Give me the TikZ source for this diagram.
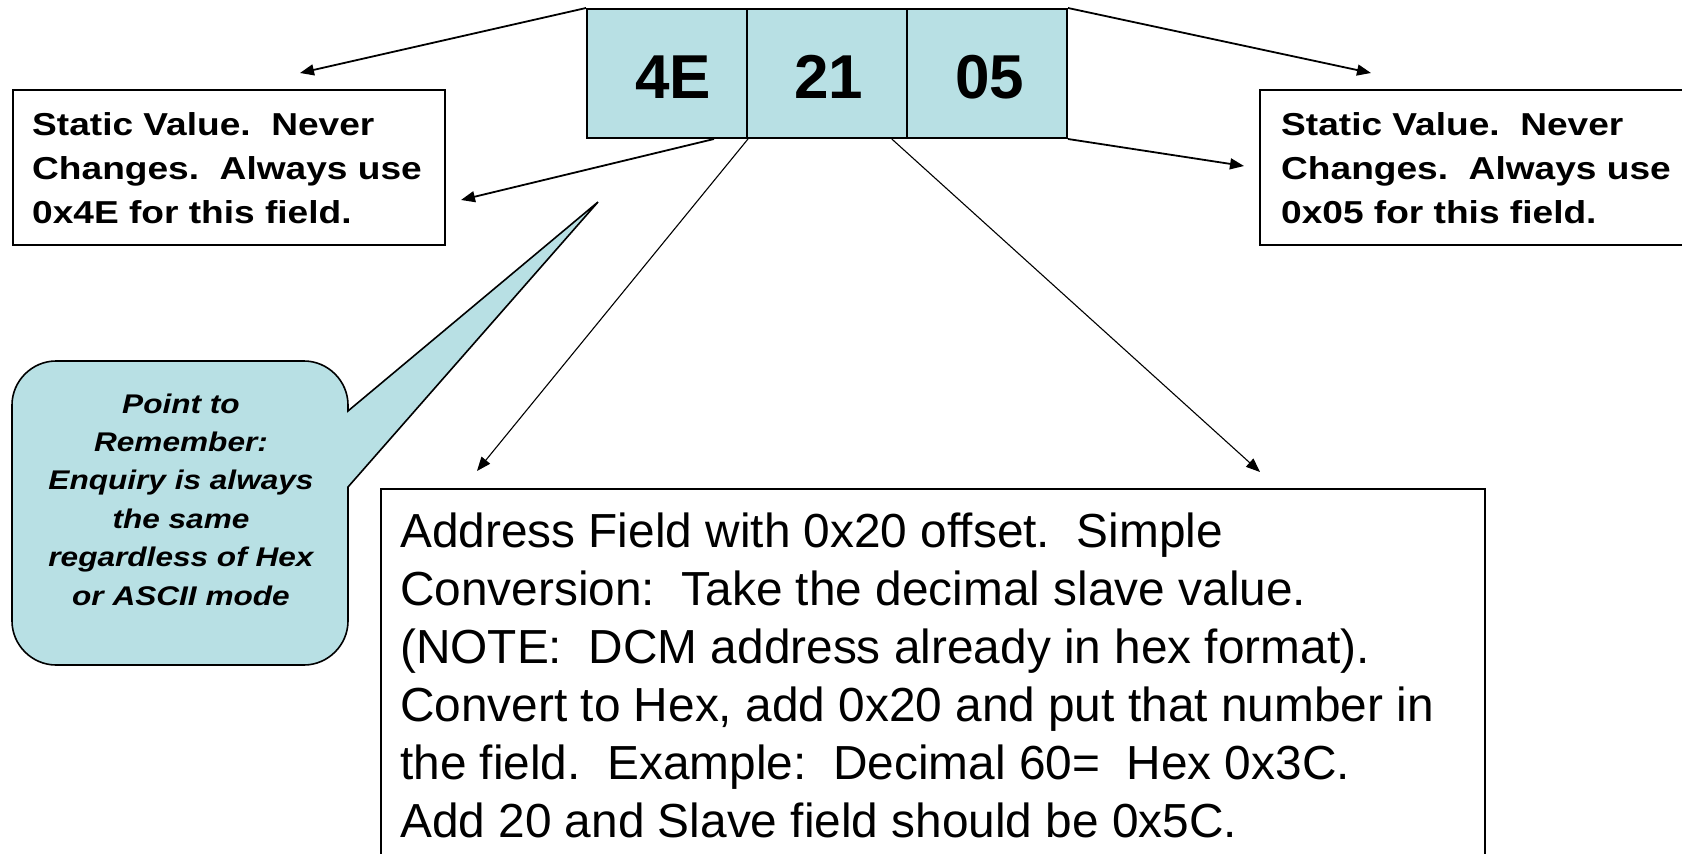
\documentclass[tikz,border=0pt]{standalone}
\usepackage{fontspec}
\setmainfont{Liberation Sans}
\newfontfamily\widesans[FakeStretch=1.17]{Liberation Sans}
\usetikzlibrary{arrows.meta,calc}
\definecolor{cellfill}{RGB}{184,224,228}
\tikzset{
  cell/.style={draw=black,line width=2pt,fill=cellfill,minimum width=160pt,minimum height=129pt,inner sep=0pt,text height=50pt,text depth=0pt,font=\fontsize{62}{62}\selectfont\bfseries},
  infobox/.style={draw=black,line width=1.8pt,fill=white,inner sep=0pt,anchor=north west},
  sidearrow/.style={draw=black,line width=1.8pt,-{Triangle[length=14pt,width=11pt]}},
  diagarrow/.style={draw=black,line width=1.1pt,-{Triangle[length=14pt,width=11pt]}},
  boxtext/.style={inner sep=0pt,anchor=base west,font=\widesans\bfseries\fontsize{31.7}{44}\selectfont},
  calltext/.style={inner sep=0pt,anchor=base,font=\widesans\bfseries\itshape\fontsize{27}{38.4}\selectfont},
  bigtext/.style={inner sep=0pt,anchor=base west,font=\fontsize{47.8}{58}\selectfont},
  callout/.style={draw=black,line width=1.6pt,fill=cellfill}
}
\begin{document}
\begin{tikzpicture}[x=1pt,y=-1pt]
\useasboundingbox (0,0) rectangle (1682,854);
\clip (0,0) rectangle (1682,854);

% field cells
\node[cell] (f1) at (667,73.5) {\kern12pt 4E};
\node[cell] (f2) at (827,73.5) {\kern4pt 21};
\node[cell] (f3) at (987,73.5) {\kern5pt 05};

% side boxes
\node[infobox,minimum width=432pt,minimum height=155pt] (lbox) at (12,89) {};
\node[boxtext] (ltext) at (32,135) {\vtop{\baselineskip=44pt
  \hbox{Static Value.\ \ Never}
  \hbox{Changes.\ \ Always use}
  \hbox{0x4E for this field.}}};

\node[infobox,minimum width=440pt,minimum height=155pt] (rbox) at (1259,89) {};
\node[boxtext] (rtext) at (1281,135) {\vtop{\baselineskip=44pt
  \hbox{Static Value.\ \ Never}
  \hbox{Changes.\ \ Always use}
  \hbox{0x05 for this field.}}};

% big box
\node[infobox,minimum width=1104pt,minimum height=400pt] (bbox) at (380,488) {};
\node[bigtext] (btext) at (400,547) {\vtop{\baselineskip=58pt
  \hbox{Address Field with 0x20 offset.\ \ Simple}
  \hbox{Conversion:\ \ Take the decimal slave value.}
  \hbox{(NOTE:\ \ DCM address already in hex format).}
  \hbox{Convert to Hex, add 0x20 and put that number in}
  \hbox{the field.\ \ Example:\ \ Decimal 60=\ \ Hex 0x3C.}
  \hbox{Add 20 and Slave field should be 0x5C.}}};

% callout
\coordinate (ctip) at (598,202);
\path[callout] (348,411) -- (348,405) .. controls (348,381) and (328,361) .. (304,361) -- (56,361)
  .. controls (32,361) and (12,381) .. (12,405) -- (12,621) .. controls (12,645) and (32,665) .. (56,665)
  -- (304,665) .. controls (328,665) and (348,645) .. (348,621) -- (348,487) -- (ctip) -- cycle;
\node[calltext] (ctext) at (181,413) {\vtop{\baselineskip=38.4pt
  \hbox to 330pt{\hss Point to\hss}
  \hbox to 330pt{\hss Remember:\hss}
  \hbox to 330pt{\hss Enquiry is always\hss}
  \hbox to 330pt{\hss the same\hss}
  \hbox to 330pt{\hss regardless of Hex\hss}
  \hbox to 330pt{\hss or ASCII mode\hss}}};

% arrow tips
\coordinate (t1) at (300,73);
\coordinate (t2) at (461,200);
\coordinate (t3) at (1371,73);
\coordinate (t4) at (1244,166);
\coordinate (t5) at (477,471);
\coordinate (t6) at (1260,472);
\coordinate (s2) at ($(f1.south west)!0.79!(f1.south east)$);
\coordinate (s6) at ($(f2.south west)!0.9!(f2.south east)$);

\draw[sidearrow] (f1.north west) -- (t1);
\draw[sidearrow] (s2) -- (t2);
\draw[sidearrow] (f3.north east) -- (t3);
\draw[sidearrow] (f3.south east) -- (t4);
\draw[diagarrow] (f1.south east) -- (t5);
\draw[diagarrow] (s6) -- (t6);
\end{tikzpicture}
\end{document}
